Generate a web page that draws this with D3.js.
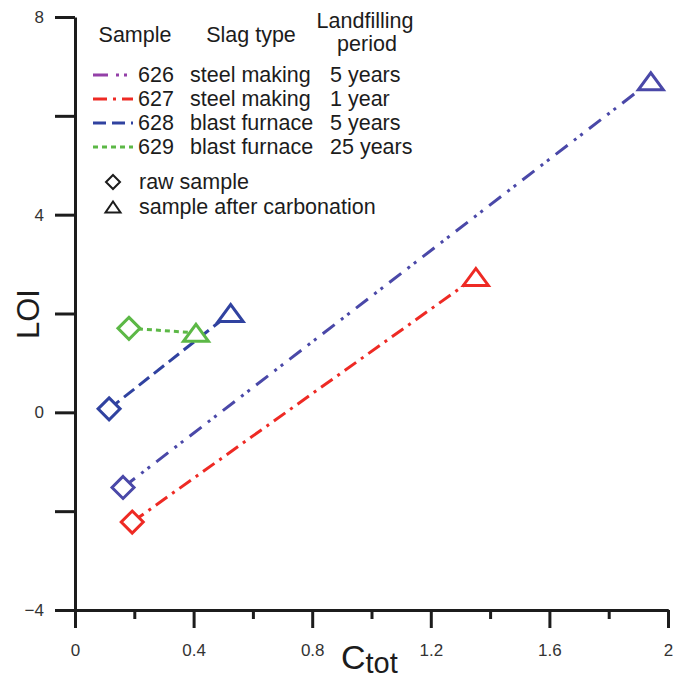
<!DOCTYPE html>
<html>
<head>
<meta charset="utf-8">
<script src="https://cdn.jsdelivr.net/npm/d3@7/dist/d3.min.js"></script>
<style>
  body { margin: 0; background: #fff; }
  svg { display: block; font-family: "Liberation Sans", Arial, sans-serif; }
  .axis path, .axis line { stroke: #1c1c1c; stroke-width: 3; }
  .axis text { fill: #333; font-size: 17px; font-family: "Liberation Sans", Arial, sans-serif; }
</style>
</head>
<body>
<svg id="chart" width="674" height="679"></svg>
<script>
// ********************** //
//          Data          //
// ********************** //
var samples = ['626', '627', '628', '629'];
var slagTypes = ['steel making', 'steel making', 'blast furnace', 'blast furnace'];
var periods = ['5 years', '1 year', '5 years', '25 years'];
var rawC = [0.162, 0.193, 0.115, 0.182];
var rawLOI = [-1.52, -2.22, 0.07, 1.70];
var carbC = [1.942, 1.352, 0.525, 0.408];
var carbLOI = [6.70, 2.74, 2.01, 1.61];

var xMajor = [0, 0.4, 0.8, 1.2, 1.6, 2];
var xMinor = [0.2, 0.6, 1.0, 1.4, 1.8];
var yTicks = [-4, -2, 0, 2, 4, 6, 8];
var yLabelled = [-4, 0, 4, 8];

// ***** Styles ***** //
var lineColors = ['#4a48a8', '#ee2a24', '#3042a0', '#5cb846'];
var legendColors = ['#9440a8', '#ee2a24', '#3042a0', '#5cb846'];
var dashes = ['15,8,3,5,3,8', '14,6,3,6', '13,6', '5,4'];

var svg = d3.select('#chart');

var x = d3.scaleLinear().domain([0, 2]).range([75, 668]);
var y = d3.scaleLinear().domain([-4, 8]).range([610, 17]);

// ********************** //
//          Axes          //
// ********************** //
svg.append('g')
    .attr('class', 'axis')
    .attr('transform', 'translate(75,0)')
    .call(d3.axisLeft(y).tickValues(yTicks).tickSize(20).tickSizeOuter(0).tickPadding(11)
        .tickFormat(d => yLabelled.includes(d) ? d3.format('d')(d) : ''));

svg.append('g')
    .attr('class', 'axis')
    .attr('transform', 'translate(0,610)')
    .call(d3.axisBottom(x).tickValues(xMinor).tickSize(9).tickSizeOuter(0).tickFormat(''));

svg.append('g')
    .attr('class', 'axis')
    .attr('transform', 'translate(0,610)')
    .call(d3.axisBottom(x).tickValues(xMajor).tickSize(18).tickSizeOuter(0).tickPadding(16)
        .tickFormat(d => d3.format('')(d)));

// ***** Axis titles ***** //
svg.append('text')
    .attr('transform', 'translate(39,314) rotate(-90)')
    .attr('text-anchor', 'middle')
    .attr('font-size', 31)
    .attr('fill', '#1c1c1c')
    .text('LOI');

var xt = svg.append('text')
    .attr('x', 341)
    .attr('y', 669)
    .attr('fill', '#1c1c1c');
xt.append('tspan').attr('font-size', 34).text('C');
xt.append('tspan').attr('font-size', 29).attr('dy', 4).text('tot');

// ********************** //
//         Series         //
// ********************** //
var diamond = function(r) { return 'M0,' + (-r) + 'L' + r + ',0L0,' + r + 'L' + (-r) + ',0Z'; };
var triangle = function(w, h) {
    return 'M' + (-w / 2) + ',' + (h / 2) + 'L' + (w / 2) + ',' + (h / 2) + 'L0,' + (-h / 2) + 'Z';
};

var idx = d3.range(samples.length);

svg.append('g').selectAll('line')
    .data(idx)
    .enter()
    .append('line')
    .attr('x1', i => x(rawC[i]))
    .attr('y1', i => y(rawLOI[i]))
    .attr('x2', i => x(carbC[i]))
    .attr('y2', i => y(carbLOI[i]))
    .attr('stroke', i => lineColors[i])
    .attr('stroke-width', 3)
    .attr('stroke-dasharray', i => dashes[i]);

svg.append('g').selectAll('path')
    .data(idx)
    .enter()
    .append('path')
    .attr('d', diamond(11))
    .attr('transform', i => 'translate(' + x(rawC[i]) + ',' + y(rawLOI[i]) + ')')
    .attr('fill', '#fff')
    .attr('stroke', i => lineColors[i])
    .attr('stroke-width', 3);

svg.append('g').selectAll('path')
    .data(idx)
    .enter()
    .append('path')
    .attr('d', triangle(25, 17))
    .attr('transform', i => 'translate(' + x(carbC[i]) + ',' + y(carbLOI[i]) + ')')
    .attr('fill', '#fff')
    .attr('stroke', i => lineColors[i])
    .attr('stroke-width', 3);

// ********************** //
//         Legend         //
// ********************** //
var leg = svg.append('g')
    .attr('font-size', 21.5)
    .attr('fill', '#1c1c1c');

leg.append('text').attr('x', 135).attr('y', 42).attr('text-anchor', 'middle').text('Sample');
leg.append('text').attr('x', 251).attr('y', 42).attr('text-anchor', 'middle').text('Slag type');
leg.append('text').attr('x', 365).attr('y', 28).attr('text-anchor', 'middle').text('Landfilling');
leg.append('text').attr('x', 367).attr('y', 51).attr('text-anchor', 'middle').text('period');

var rows = leg.selectAll('g.row')
    .data(idx)
    .enter()
    .append('g')
    .attr('class', 'row')
    .attr('transform', i => 'translate(0,' + (82 + i * 24) + ')');

rows.append('line')
    .attr('x1', 93).attr('x2', 133)
    .attr('y1', -7).attr('y2', -7)
    .attr('stroke', i => legendColors[i])
    .attr('stroke-width', 3)
    .attr('stroke-dasharray', i => dashes[i]);
rows.append('text').attr('x', 138).text(i => samples[i]);
rows.append('text').attr('x', 190).text(i => slagTypes[i]);
rows.append('text').attr('x', 330).text(i => periods[i]);

leg.append('path')
    .attr('d', diamond(7))
    .attr('transform', 'translate(113,182)')
    .attr('fill', 'none')
    .attr('stroke', '#1c1c1c')
    .attr('stroke-width', 2);
leg.append('text').attr('x', 139).attr('y', 189).text('raw sample');

leg.append('path')
    .attr('d', triangle(15, 11))
    .attr('transform', 'translate(113,207)')
    .attr('fill', 'none')
    .attr('stroke', '#1c1c1c')
    .attr('stroke-width', 2);
leg.append('text').attr('x', 139).attr('y', 214).text('sample after carbonation');
</script>
</body>
</html>
